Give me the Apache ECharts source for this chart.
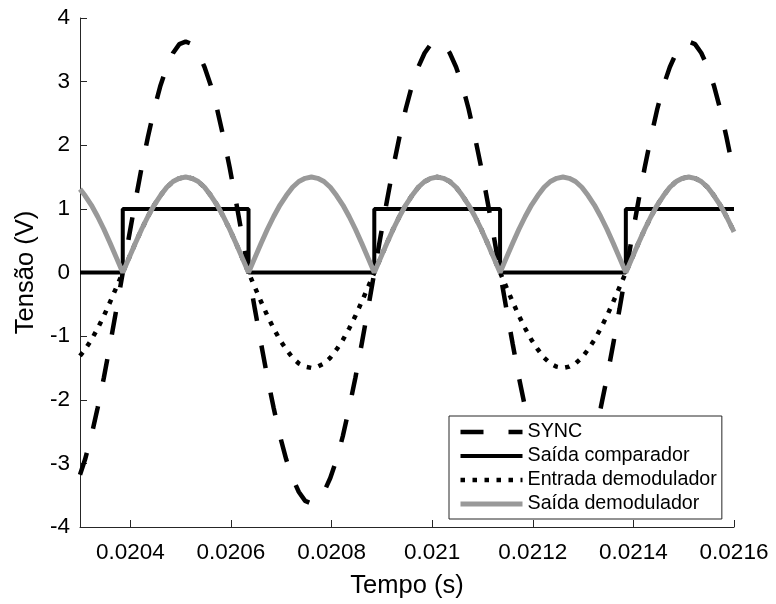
<!DOCTYPE html>
<html>
<head>
<meta charset="utf-8">
<script src="https://cdn.jsdelivr.net/npm/echarts@6/dist/echarts.min.js"></script>
<style>
  html, body { margin: 0; padding: 0; background: #fff; }
  #chart { width: 776px; height: 604px; }
</style>
</head>
<body>
<div id="chart"></div>
<script>
// Sample instants (s)
const time = [
  0.0203,
  0.02031, 0.0203225, 0.020335, 0.0203475, 0.02036, 0.0203725,
  0.020385, 0.0203975, 0.02041, 0.0204225, 0.020435, 0.0204475, 0.02046, 0.0204725, 0.020485, 0.0204975,
  0.02051, 0.0205225, 0.020535, 0.0205475, 0.02056, 0.0205725, 0.020585, 0.0205975, 0.02061, 0.0206225,
  0.020635, 0.0206475, 0.02066, 0.0206725, 0.020685, 0.0206975, 0.02071, 0.0207225, 0.020735, 0.0207475,
  0.02076, 0.0207725, 0.020785, 0.0207975, 0.02081, 0.0208225, 0.020835, 0.0208475, 0.02086, 0.0208725,
  0.020885, 0.0208975, 0.02091, 0.0209225, 0.020935, 0.0209475, 0.02096, 0.0209725, 0.020985, 0.0209975,
  0.02101, 0.0210225, 0.021035, 0.0210475, 0.02106, 0.0210725, 0.021085, 0.0210975, 0.02111, 0.0211225,
  0.021135, 0.0211475, 0.02116, 0.0211725, 0.021185, 0.0211975, 0.02121, 0.0212225, 0.021235, 0.0212475,
  0.02126, 0.0212725, 0.021285, 0.0212975, 0.02131, 0.0213225, 0.021335, 0.0213475, 0.02136, 0.0213725,
  0.021385, 0.0213975, 0.02141, 0.0214225, 0.021435, 0.0214475, 0.02146, 0.0214725, 0.021485, 0.0214975,
  0.02151, 0.0215225, 0.021535, 0.0215475, 0.02156, 0.0215725, 0.021585, 0.0215975,
  0.0216
];

// SYNC reference (V)
const sync = [
  -3.18,
  -2.94, -2.57, -2.13, -1.65, -1.12, -0.57,
  0, 0.57, 1.12, 1.65, 2.13, 2.57, 2.94, 3.23, 3.45, 3.59,
  3.63, 3.59, 3.45, 3.23, 2.94, 2.57, 2.13, 1.65, 1.12, 0.57,
  0, -0.57, -1.12, -1.65, -2.13, -2.57, -2.94, -3.23, -3.45, -3.59,
  -3.63, -3.59, -3.45, -3.23, -2.94, -2.57, -2.13, -1.65, -1.12, -0.57,
  0, 0.57, 1.12, 1.65, 2.13, 2.57, 2.94, 3.23, 3.45, 3.59,
  3.63, 3.59, 3.45, 3.23, 2.94, 2.57, 2.13, 1.65, 1.12, 0.57,
  0, -0.57, -1.12, -1.65, -2.13, -2.57, -2.94, -3.23, -3.45, -3.59,
  -3.63, -3.59, -3.45, -3.23, -2.94, -2.57, -2.13, -1.65, -1.12, -0.57,
  0, 0.57, 1.12, 1.65, 2.13, 2.57, 2.94, 3.23, 3.45, 3.59,
  3.63, 3.59, 3.45, 3.23, 2.94, 2.57, 2.13, 1.65,
  1.55
];

// Demodulator input (V)
const demodIn = [
  -1.31,
  -1.21, -1.06, -0.88, -0.68, -0.46, -0.23,
  0, 0.23, 0.46, 0.68, 0.88, 1.06, 1.21, 1.34, 1.43, 1.48,
  1.50, 1.48, 1.43, 1.34, 1.21, 1.06, 0.88, 0.68, 0.46, 0.23,
  0, -0.23, -0.46, -0.68, -0.88, -1.06, -1.21, -1.34, -1.43, -1.48,
  -1.50, -1.48, -1.43, -1.34, -1.21, -1.06, -0.88, -0.68, -0.46, -0.23,
  0, 0.23, 0.46, 0.68, 0.88, 1.06, 1.21, 1.34, 1.43, 1.48,
  1.50, 1.48, 1.43, 1.34, 1.21, 1.06, 0.88, 0.68, 0.46, 0.23,
  0, -0.23, -0.46, -0.68, -0.88, -1.06, -1.21, -1.34, -1.43, -1.48,
  -1.50, -1.48, -1.43, -1.34, -1.21, -1.06, -0.88, -0.68, -0.46, -0.23,
  0, 0.23, 0.46, 0.68, 0.88, 1.06, 1.21, 1.34, 1.43, 1.48,
  1.50, 1.48, 1.43, 1.34, 1.21, 1.06, 0.88, 0.68,
  0.64
];

// Demodulator output (V)
const demodOut = [
  1.31,
  1.21, 1.06, 0.88, 0.68, 0.46, 0.23,
  0, 0.23, 0.46, 0.68, 0.88, 1.06, 1.21, 1.34, 1.43, 1.48,
  1.50, 1.48, 1.43, 1.34, 1.21, 1.06, 0.88, 0.68, 0.46, 0.23,
  0, 0.23, 0.46, 0.68, 0.88, 1.06, 1.21, 1.34, 1.43, 1.48,
  1.50, 1.48, 1.43, 1.34, 1.21, 1.06, 0.88, 0.68, 0.46, 0.23,
  0, 0.23, 0.46, 0.68, 0.88, 1.06, 1.21, 1.34, 1.43, 1.48,
  1.50, 1.48, 1.43, 1.34, 1.21, 1.06, 0.88, 0.68, 0.46, 0.23,
  0, 0.23, 0.46, 0.68, 0.88, 1.06, 1.21, 1.34, 1.43, 1.48,
  1.50, 1.48, 1.43, 1.34, 1.21, 1.06, 0.88, 0.68, 0.46, 0.23,
  0, 0.23, 0.46, 0.68, 0.88, 1.06, 1.21, 1.34, 1.43, 1.48,
  1.50, 1.48, 1.43, 1.34, 1.21, 1.06, 0.88, 0.68,
  0.64
];

// Comparator output: switching instants and levels
const compTime = [0.0203, 0.020385, 0.020385, 0.020635, 0.020635, 0.020885, 0.020885,
                  0.021135, 0.021135, 0.021385, 0.021385, 0.0216];
const compLevel = [0, 0, 1, 1, 0, 0, 1, 1, 0, 0, 1, 1];

// Axis ticks
const xTickValues = [0.0204, 0.0206, 0.0208, 0.021, 0.0212, 0.0214, 0.0216];
const xTickLabels = ['0.0204', '0.0206', '0.0208', '0.021', '0.0212', '0.0214', '0.0216'];

const seriesNames = ['SYNC', 'Saída comparador', 'Entrada demodulador', 'Saída demodulador'];

const zip = (xs, ys) => xs.map((x, i) => [x, ys[i]]);

const FONT = '"Liberation Sans", Arial, Helvetica, sans-serif';
const INK = '#262626';

const chart = echarts.init(document.getElementById('chart'), null, { renderer: 'canvas' });

chart.setOption({
  animation: false,
  backgroundColor: '#ffffff',
  textStyle: { fontFamily: FONT },
  grid: { left: 80, right: 42, top: 18, bottom: 77 },
  legend: {
    orient: 'vertical',
    left: 449,
    top: 416,
    padding: [6, 5, 5, 9],
    itemWidth: 62,
    itemHeight: 20,
    itemGap: 4,
    backgroundColor: '#ffffff',
    borderColor: INK,
    borderWidth: 1,
    borderRadius: 0,
    selectedMode: false,
    itemStyle: { opacity: 0, borderWidth: 0 },
    lineStyle: { width: 'inherit', type: 'inherit' },
    textStyle: { fontFamily: FONT, fontSize: 19.7, color: '#000', lineHeight: 20 },
    data: seriesNames
  },
  xAxis: {
    type: 'value',
    min: 0.0203,
    max: 0.0216,
    name: 'Tempo (s)',
    nameLocation: 'middle',
    nameGap: 46,
    nameTextStyle: { fontFamily: FONT, fontSize: 25.5, color: '#000' },
    axisLine: { show: true, onZero: false, lineStyle: { color: INK, width: 1 } },
    axisTick: { show: true, inside: true, length: 7, customValues: xTickValues, lineStyle: { color: INK, width: 1 } },
    axisLabel: {
      show: true,
      customValues: xTickValues,
      margin: 14,
      fontFamily: FONT,
      fontSize: 22.5,
      color: '#000',
      formatter: (v) => {
        const i = xTickValues.findIndex((t) => Math.abs(t - v) < 1e-9);
        return i >= 0 ? xTickLabels[i] : '';
      }
    },
    splitLine: { show: false }
  },
  yAxis: {
    type: 'value',
    min: -4,
    max: 4,
    interval: 1,
    name: 'Tensão (V)',
    nameLocation: 'middle',
    nameGap: 40,
    nameTextStyle: { fontFamily: FONT, fontSize: 25.5, color: '#000' },
    axisLine: { show: true, onZero: false, lineStyle: { color: INK, width: 1 } },
    axisTick: { show: true, inside: true, length: 7, lineStyle: { color: INK, width: 1 } },
    axisLabel: { margin: 10, fontFamily: FONT, fontSize: 22.5, color: '#000' },
    splitLine: { show: false }
  },
  series: [
    {
      name: seriesNames[0],
      type: 'line',
      data: zip(time, sync),
      showSymbol: false,
      symbol: 'none',
      silent: true,
      clip: true,
      itemStyle: { color: '#000' },
      lineStyle: { color: '#000', width: 4.5, type: [23, 25], cap: 'butt' }
    },
    {
      name: seriesNames[1],
      type: 'line',
      data: zip(compTime, compLevel),
      showSymbol: false,
      symbol: 'none',
      silent: true,
      clip: true,
      itemStyle: { color: '#000' },
      lineStyle: { color: '#000', width: 4 }
    },
    {
      name: seriesNames[2],
      type: 'line',
      data: zip(time, demodIn),
      showSymbol: false,
      symbol: 'none',
      silent: true,
      clip: true,
      itemStyle: { color: '#000' },
      lineStyle: { color: '#000', width: 4.5, type: [4.5, 7.5], cap: 'butt' }
    },
    {
      name: seriesNames[3],
      type: 'line',
      data: zip(time, demodOut),
      showSymbol: false,
      symbol: 'none',
      silent: true,
      clip: true,
      itemStyle: { color: '#999999' },
      lineStyle: { color: '#999999', width: 5 }
    }
  ]
});
</script>
</body>
</html>
